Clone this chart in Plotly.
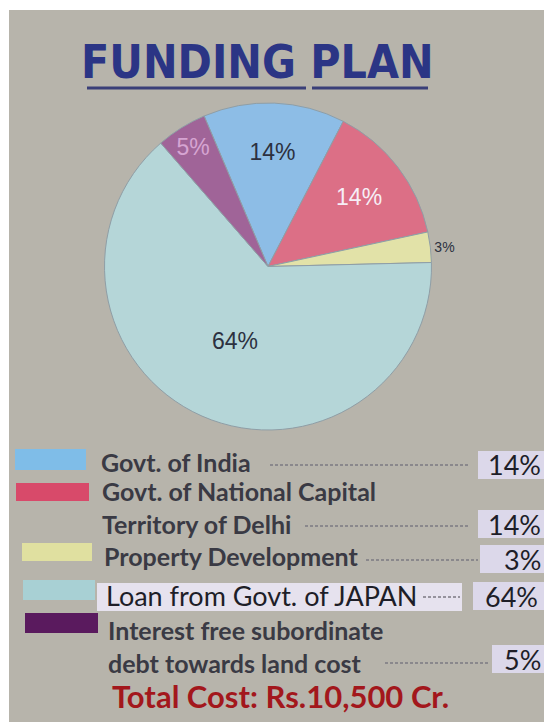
import plotly.graph_objects as go

# ---- data ----
categories = ["Govt. of India", "Govt. of National Capital Territory of Delhi",
              "Property Development", "Loan from Govt. of JAPAN",
              "Interest free subordinate debt towards land cost"]
shares = [14, 14, 3, 64, 5]
legend_lines = [["Govt. of India"],
                ["Govt. of National Capital", "Territory of Delhi"],
                ["Property Development"],
                ["Loan from Govt. of JAPAN"],
                ["Interest free subordinate", "debt towards land cost"]]
title_text = "FUNDING PLAN"
total_text = "Total Cost: Rs.10,500 Cr."

pie_colors = ["#8dbde6", "#dc6f86", "#e2e2a8", "#b5d6d8", "#a06498"]
swatch_colors = ["#7fbde8", "#d84a6a", "#e0e0a0", "#a8d0d4", "#5a1a5e"]

# page has an 8px body margin; map screen pixels to paper coords
OFF = 8
W, H = 552 - OFF, 722 - OFF
def fx(x): return (x - OFF) / W
def fy(y): return 1 - (y - OFF) / H

FONT = "Lato, 'Noto Sans', sans-serif"
TXT = "#3a3a44"

fig = go.Figure()
fig.add_trace(go.Pie(
    values=shares, labels=categories, sort=False, direction="clockwise",
    rotation=-23,
    marker=dict(colors=pie_colors, line=dict(color="#8f9ea6", width=1)),
    texttemplate="%{value}%",
    textposition=["inside", "inside", "outside", "inside", "inside"],
    insidetextorientation="horizontal",
    textfont=dict(family="'Liberation Sans', Arial, sans-serif", size=23,
                  color=["#2c3140", "#f6eef6", "#2c3140", "#2c3140", "#d6a4d2"]),
    outsidetextfont=dict(family="'Liberation Sans', Arial, sans-serif", size=14, color="#2c3140"),
    showlegend=False, hoverinfo="label+percent",
    domain=dict(x=[fx(104), fx(432)], y=[fy(430), fy(103)]),
))

shapes = []
annotations = []
# background panel
shapes.append(dict(type="rect", xref="paper", yref="paper", x0=fx(9), x1=1, y0=0, y1=fy(10),
                   fillcolor="#b7b4ab", line=dict(width=0), layer="below"))
# title
annotations.append(dict(text=f"<b>{title_text}</b>", x=fx(257), y=fy(62), xref="paper", yref="paper",
                        xanchor="center", yanchor="middle", showarrow=False,
                        font=dict(family="'Liberation Sans Narrow', 'DejaVu Sans Condensed', Roboto, sans-serif",
                                  size=46, color="#2b3585")))
for x0, x1 in [(87, 306), (312, 428)]:
    shapes.append(dict(type="line", xref="paper", yref="paper", x0=fx(x0), x1=fx(x1), y0=fy(88), y1=fy(88),
                       line=dict(color="#3a3f78", width=3)))

# legend rows: swatch (x0,x1,y0,y1), text block centre, dash (x0,x1,y), box (x0,x1,y0,y1)
rows = [
    dict(sw=(15, 86, 449, 470), tx=99, ty=462, dash=(270, 470, 465), box=(478, 548, 451, 479)),
    dict(sw=(16, 89, 483, 501), tx=100, ty=508, dash=(305, 470, 526), box=(478, 548, 510, 538)),
    dict(sw=(22, 92, 543, 561), tx=102, ty=556, dash=(366, 478, 560), box=(480, 548, 545, 573)),
    dict(sw=(23, 95, 580, 600), tx=104, ty=595, dash=(423, 460, 597), box=(473, 545, 582, 610)),
    dict(sw=(25, 98, 613, 633), tx=106, ty=646, dash=(385, 490, 663), box=(492, 548, 645, 673)),
]
for i, r in enumerate(rows):
    x0, x1, y0, y1 = r["sw"]
    shapes.append(dict(type="rect", xref="paper", yref="paper", x0=fx(x0), x1=fx(x1), y0=fy(y1), y1=fy(y0),
                       fillcolor=swatch_colors[i], line=dict(width=0)))
    if i == 3:
        shapes.append(dict(type="rect", xref="paper", yref="paper", x0=fx(97), x1=fx(462), y0=fy(611), y1=fy(583),
                           fillcolor="#e6e2ee", line=dict(width=0)))
        txt = "<br>".join(legend_lines[i])
    else:
        txt = "<br>".join(f"<b>{l}</b>" for l in legend_lines[i])
    annotations.append(dict(text=txt, x=fx(r["tx"]), y=fy(r["ty"]), xref="paper", yref="paper",
                            xanchor="left", yanchor="middle", align="left", showarrow=False,
                            font=dict(family=FONT, size=25 if i != 3 else 27,
                                      color=TXT if i != 3 else "#1e1e28")))
    dx0, dx1, dyy = r["dash"]
    shapes.append(dict(type="line", xref="paper", yref="paper", x0=fx(dx0), x1=fx(dx1), y0=fy(dyy), y1=fy(dyy),
                       line=dict(color="#7c7a82", width=1.5, dash="3px,2px")))
    bx0, bx1, by0, by1 = r["box"]
    shapes.append(dict(type="rect", xref="paper", yref="paper", x0=fx(bx0), x1=fx(bx1), y0=fy(by1), y1=fy(by0),
                       fillcolor="#dcd8ea", line=dict(width=0)))
    annotations.append(dict(text=f"{shares[i]}%", x=fx(bx1 - 5), y=fy((by0 + by1) / 2), xref="paper", yref="paper",
                            xanchor="right", yanchor="middle", showarrow=False,
                            font=dict(family=FONT, size=27, color="#1e1e28")))

annotations.append(dict(text=f"<b>{total_text}</b>", x=fx(110), y=fy(696), xref="paper", yref="paper",
                        xanchor="left", yanchor="middle", showarrow=False,
                        font=dict(family=FONT, size=31, color="#a3171c")))

fig.update_layout(width=W, height=H, margin=dict(l=0, r=0, t=0, b=0),
                  paper_bgcolor="#ffffff", plot_bgcolor="#ffffff",
                  shapes=shapes, annotations=annotations)
fig.write_html("out.html")
